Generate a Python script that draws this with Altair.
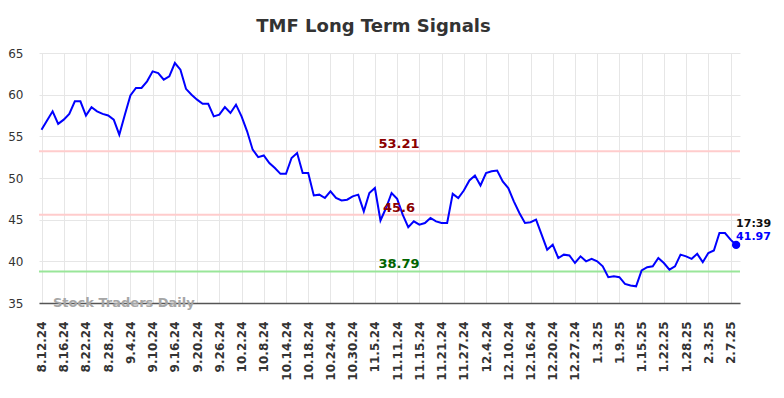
import altair as alt
import pandas as pd

# Closing values, one per trading day, 8.12.24 .. 2.10.25
values = [
    55.8, 56.9, 58.0, 56.5, 57.0, 57.7, 59.2, 59.2, 57.5, 58.5,
    58.0, 57.7, 57.5, 57.0, 55.2, 57.6, 59.9, 60.8, 60.8, 61.6,
    62.8, 62.6, 61.8, 62.2, 63.8, 63.0, 60.7, 60.0, 59.4, 58.9,
    58.9, 57.4, 57.6, 58.5, 57.8, 58.8, 57.4, 55.6, 53.4, 52.5,
    52.7, 51.8, 51.2, 50.5, 50.5, 52.4, 53.0, 50.6, 50.6, 47.9,
    48.0, 47.6, 48.4, 47.6, 47.3, 47.4, 47.8, 48.0, 46.0, 48.2,
    48.8, 44.9, 46.4, 48.2, 47.5, 45.6, 44.1, 44.8, 44.4, 44.6,
    45.2, 44.8, 44.6, 44.6, 48.1, 47.6, 48.5, 49.7, 50.3, 49.1,
    50.6, 50.8, 50.9, 49.6, 48.8, 47.2, 45.8, 44.6, 44.7, 45.0,
    43.2, 41.4, 42.0, 40.4, 40.8, 40.7, 39.8, 40.6, 40.0, 40.3,
    40.0, 39.4, 38.1, 38.2, 38.1, 37.3, 37.1, 37.0, 38.9, 39.3,
    39.4, 40.4, 39.8, 39.0, 39.4, 40.8, 40.6, 40.3, 40.9, 39.9,
    41.0, 41.3, 43.4, 43.4, 42.6, 41.97,
]

# Axis labels, every 4th trading day
tick_labels = [
    "8.12.24", "8.16.24", "8.22.24", "8.28.24", "9.4.24", "9.10.24", "9.16.24",
    "9.20.24", "9.26.24", "10.2.24", "10.8.24", "10.14.24", "10.18.24",
    "10.24.24", "10.30.24", "11.5.24", "11.11.24", "11.15.24", "11.21.24",
    "11.27.24", "12.4.24", "12.10.24", "12.16.24", "12.20.24", "12.27.24",
    "1.3.25", "1.9.25", "1.15.25", "1.22.25", "1.28.25", "2.3.25", "2.7.25",
]
tick_step = 4

levels = [53.21, 45.6, 38.79]
level_labels = ["53.21", "45.6", "38.79"]
level_line_colors = ["#ffcccc", "#ffcccc", "#99e699"]
level_text_colors = ["#8b0000", "#8b0000", "#006400"]

last_time = "17:39"
last_value_label = "41.97"

df = pd.DataFrame({"i": list(range(len(values))), "v": values})
lv = pd.DataFrame({"y": levels, "label": level_labels,
                   "lc": level_line_colors, "tc": level_text_colors})
last = df.tail(1).assign(t=last_time, lab=last_value_label)

label_expr = "[" + ",".join(f"'{s}'" for s in tick_labels) + f"][round(datum.value/{tick_step})]"

x_scale = alt.Scale(domain=[-0.45, 125.7], nice=False, zero=False)
y_scale = alt.Scale(domain=[35, 65], nice=False, zero=False)

x_axis = alt.Axis(values=list(range(0, len(tick_labels) * tick_step, tick_step)),
                  labelExpr=label_expr, labelAngle=270, ticks=False,
                  labelOverlap=False, labelBound=False,
                  labelPadding=18, labelFont="DejaVu Sans", labelFontSize=12,
                  labelFontWeight="bold", labelColor="#333333",
                  domainColor="#555555", domainWidth=1.5,
                  gridColor="#e6e6e6", title=None)
y_axis = alt.Axis(values=[35, 40, 45, 50, 55, 60, 65], ticks=False, domain=False,
                  labelPadding=16, labelFont="DejaVu Sans", labelFontSize=12,
                  labelColor="#333333", gridColor="#e6e6e6", title=None)

base_x = alt.X("i:Q", scale=x_scale, axis=x_axis)
base_y = alt.Y("v:Q", scale=y_scale, axis=y_axis)

line = alt.Chart(df).mark_line(color="#0000ff", strokeWidth=2).encode(x=base_x, y=base_y)

rules = alt.Chart(lv).mark_rule(strokeWidth=2).encode(
    y=alt.Y("y:Q", scale=y_scale, axis=y_axis),
    color=alt.Color("lc:N", scale=None),
)
rule_text = alt.Chart(lv).mark_text(
    font="DejaVu Sans", fontSize=13, fontWeight="bold", align="center",
    baseline="alphabetic", dy=-3,
).encode(
    x=alt.value(360),
    y=alt.Y("y:Q", scale=y_scale, axis=y_axis),
    text="label:N",
    color=alt.Color("tc:N", scale=None),
)

dot = alt.Chart(last).mark_circle(size=70, color="#0000ff", opacity=1).encode(
    x=base_x, y=base_y)
time_text = alt.Chart(last).mark_text(
    font="DejaVu Sans", fontSize=11, fontWeight="bold", align="left",
    baseline="alphabetic", dy=-18, color="#111111",
).encode(x=base_x, y=base_y, text="t:N")
val_text = alt.Chart(last).mark_text(
    font="DejaVu Sans", fontSize=11, fontWeight="bold", align="left",
    baseline="alphabetic", dy=-5, color="#0000ff",
).encode(x=base_x, y=base_y, text="lab:N")

watermark = alt.Chart(last).mark_text(
    font="DejaVu Sans", fontSize=13, fontWeight="bold", align="left",
    baseline="middle", color="#a6a6a6",
).encode(x=alt.value(14), y=alt.value(250), text=alt.value("Stock Traders Daily"))

chart = alt.layer(rules, line, rule_text, dot, time_text, val_text, watermark).properties(
    width=701, height=250,
    title=alt.TitleParams("TMF Long Term Signals", font="DejaVu Sans", fontSize=18,
                          fontWeight="bold", color="#333333", anchor="middle",
                          dx=-16, offset=11),
    autosize=alt.AutoSizeParams(type="none"),
    padding={"left": 31, "top": 45, "right": 36, "bottom": 87},
).configure_view(stroke=None).configure_axisX(labelOverlap=False)

chart.save("out.html", embed_options={"renderer": "svg", "actions": False})
